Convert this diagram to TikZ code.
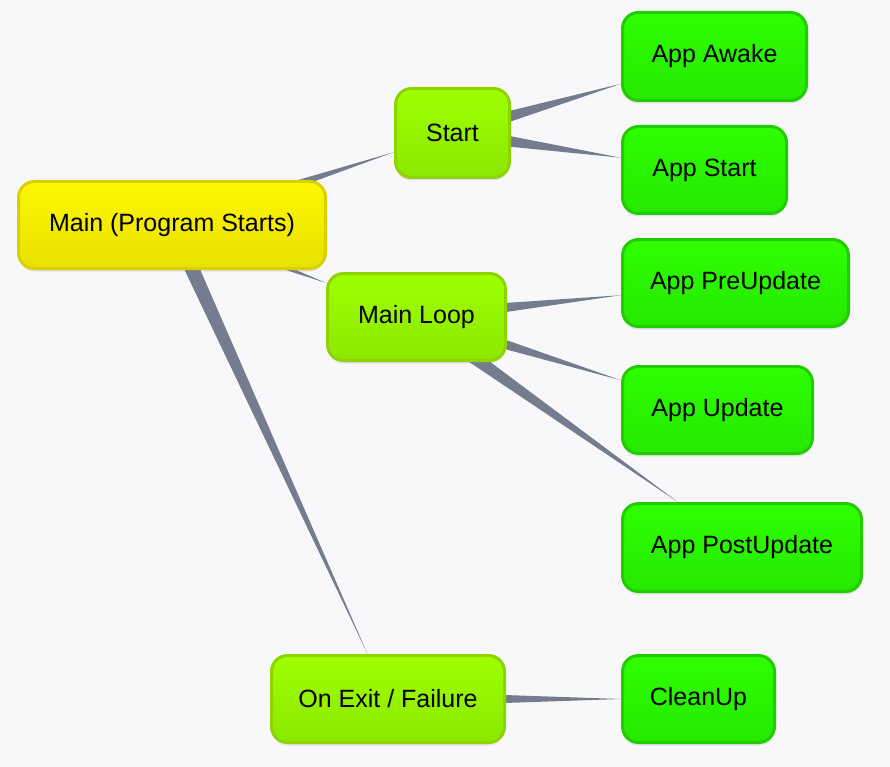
\documentclass[tikz,border=0pt]{standalone}
\usepackage{fontspec}
\setmainfont{Liberation Sans}
\usetikzlibrary{calc,shadows,backgrounds}
\definecolor{bgc}{HTML}{F8F8FA}
\definecolor{wedgec}{HTML}{747C8D}
\definecolor{yelT}{HTML}{FFF800}
\definecolor{yelBot}{HTML}{E8E000}
\definecolor{yelB}{HTML}{D8D000}
\definecolor{limeT}{HTML}{9EFF00}
\definecolor{limeBot}{HTML}{8CE800}
\definecolor{limeB}{HTML}{8ED400}
\definecolor{grnT}{HTML}{2EFF00}
\definecolor{grnBot}{HTML}{26E800}
\definecolor{grnB}{HTML}{22CC00}
\tikzset{
  box/.style={rounded corners=16pt, line width=3pt, inner sep=0pt,
    font=\fontsize{25}{29}\selectfont, text=black,
    drop shadow={shadow xshift=0pt,shadow yshift=-3pt,opacity=0.18}},
  yel/.style={box, draw=yelB, top color=yelT, bottom color=yelBot},
  lime/.style={box, draw=limeB, top color=limeT, bottom color=limeBot},
  grn/.style={box, draw=grnB, top color=grnT, bottom color=grnBot},
  wedge/.style={fill=wedgec, draw=none}
}
\newcommand\wedgelink[2]{%
  \pgfcoordinate{#1-#2-tip}{\pgfpointshapeborder{#2}{\pgfpointanchor{#1}{center}}}%
  \fill[wedge] ($(#1.center)!8pt!90:(#1-#2-tip)$) -- (#1-#2-tip) -- ($(#1.center)!8pt!-90:(#1-#2-tip)$) -- cycle;}
\begin{document}
\begin{tikzpicture}[x=1pt,y=-1pt]
\useasboundingbox (0,0) rectangle (890,767);
\node[yel,  minimum width=307pt, minimum height=87pt] (main)  at (172,225)   {Main (Program Starts)};
\node[lime, minimum width=114pt, minimum height=89pt] (start) at (452.5,133) {Start};
\node[grn,  minimum width=184pt, minimum height=88pt] (awake) at (714.5,56.5) {App Awake};
\node[grn,  minimum width=164pt, minimum height=87pt] (appstart) at (704.5,170) {App Start};
\node[lime, minimum width=178pt, minimum height=87pt] (loop)  at (416.5,317) {Main Loop};
\node[grn,  minimum width=226pt, minimum height=87pt] (pre)   at (735.5,283) {App PreUpdate};
\node[grn,  minimum width=190pt, minimum height=87pt] (upd)   at (717.5,410) {App Update};
\node[grn,  minimum width=239pt, minimum height=88pt] (post)  at (742,547.5) {App PostUpdate};
\node[lime, minimum width=233pt, minimum height=87pt] (exit)  at (388,699)   {On Exit / Failure};
\node[grn,  minimum width=152pt, minimum height=87pt] (clean) at (698.5,699) {CleanUp};
\begin{pgfonlayer}{background}
  \fill[bgc] (0,0) rectangle (890,767);
  \wedgelink{main}{start}
  \wedgelink{main}{loop}
  \wedgelink{main}{exit}
  \wedgelink{start}{awake}
  \wedgelink{start}{appstart}
  \wedgelink{loop}{pre}
  \wedgelink{loop}{upd}
  \wedgelink{loop}{post}
  \wedgelink{exit}{clean}
\end{pgfonlayer}
\end{tikzpicture}
\end{document}
